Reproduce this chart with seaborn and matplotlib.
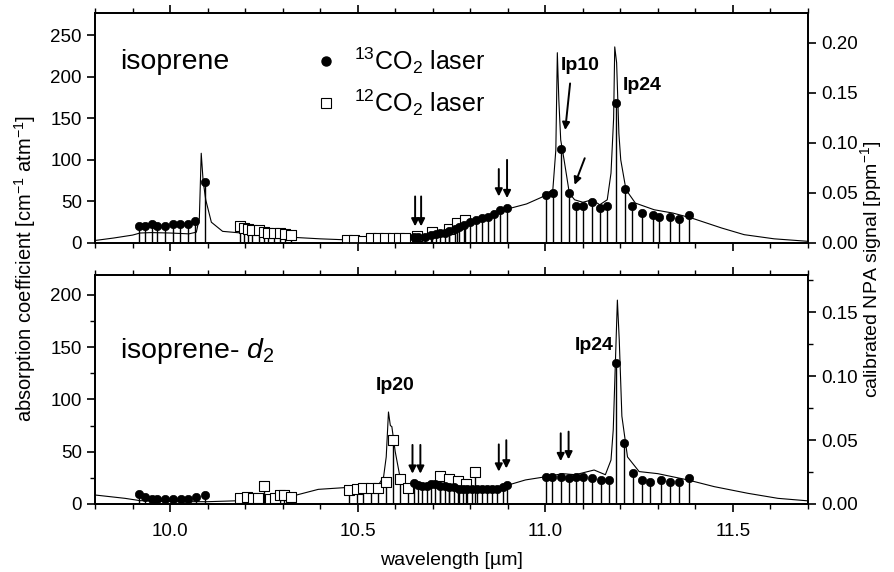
import matplotlib
matplotlib.use("Agg")
import matplotlib.pyplot as plt
import seaborn as sns
import numpy as np
from matplotlib.ticker import MultipleLocator
from matplotlib.lines import Line2D

# ---- top panel: isoprene ----
spec_top_x = [9.80, 9.85, 9.90, 9.92, 9.95, 10.00, 10.05, 10.07, 10.078, 10.083, 10.088, 10.095,
              10.11, 10.14, 10.19, 10.25, 10.32, 10.40, 10.48, 10.55, 10.64, 10.70, 10.725, 10.77,
              10.81, 10.86, 10.90, 10.95, 10.99, 11.005, 11.02, 11.028, 11.032, 11.036, 11.041,
              11.05, 11.064, 11.078, 11.10, 11.125, 11.145, 11.165, 11.175, 11.182, 11.185, 11.190,
              11.196, 11.201, 11.215, 11.24, 11.29, 11.34, 11.39, 11.47, 11.53, 11.61, 11.70]
spec_top_y = [3, 6, 9.5, 12, 12.5, 12, 11, 13, 30, 108, 75, 52,
              25, 14, 12, 9, 7, 5, 3.6, 4, 7, 10, 13, 18,
              25, 33, 41, 47, 55, 60, 64, 112, 229, 172, 124,
              100, 60, 52, 49, 52, 46, 52, 84, 150, 236, 217,
              132, 100, 64, 48, 40, 36, 30, 18, 10, 5, 2]

dot_top_x = [9.918, 9.934, 9.952, 9.964, 9.987, 10.009, 10.027, 10.047, 10.067, 10.092,
             10.649, 10.660, 10.680, 10.696, 10.709, 10.720, 10.733, 10.744, 10.759, 10.769,
             10.783, 10.800, 10.814, 10.830, 10.847, 10.863, 10.879, 10.897,
             11.001, 11.021, 11.041, 11.062, 11.083, 11.101, 11.124, 11.145, 11.164, 11.188,
             11.212, 11.230, 11.257, 11.286, 11.304, 11.333, 11.356, 11.384]
dot_top_y = [20.5, 20.5, 23, 20.5, 20.5, 23, 23, 23, 27, 73,
             6.8, 6.8, 6.8, 9.6, 10.8, 11.6, 12.4, 14.4, 16.8, 18.8,
             21.7, 25.7, 27.7, 29.7, 31.7, 34.5, 39.7, 41.7,
             57.8, 60.6, 112.7, 59.8, 44.5, 44.5, 49.7, 41.7, 44.5, 168.9,
             64.6, 44.5, 36.5, 33.7, 30.9, 30.9, 28.9, 33.7]

sq_top_x = [10.185, 10.197, 10.208, 10.219, 10.237, 10.250, 10.261, 10.277, 10.292, 10.306, 10.321,
            10.471, 10.491, 10.515, 10.536, 10.555, 10.573, 10.593, 10.611, 10.627, 10.658,
            10.698, 10.742, 10.765, 10.787]
sq_top_y = [20, 17.6, 16.4, 15.6, 15.6, 13, 12.4, 12.4, 11.6, 10.8, 9.6,
            3.6, 3.6, 2.4, 6.4, 6.4, 6.4, 5.5, 5.5, 6.4, 8.4,
            13.6, 17, 23.6, 27.7]

# ---- bottom panel: isoprene-d2 ----
spec_bot_x = [9.80, 9.88, 9.92, 10.01, 10.10, 10.19, 10.25, 10.32, 10.395, 10.48, 10.54, 10.555,
              10.569, 10.576, 10.582, 10.587, 10.591, 10.60, 10.611, 10.627, 10.649, 10.69, 10.725,
              10.77, 10.86, 10.90, 10.947, 11.00, 11.046, 11.08, 11.13, 11.16, 11.175, 11.181,
              11.192, 11.197, 11.204, 11.219, 11.25, 11.30, 11.38, 11.45, 11.54, 11.62, 11.70]
spec_bot_y = [8.6, 5.4, 3.2, 2.2, 2.2, 3.2, 4.5, 7, 14, 16, 17, 18,
              26, 45, 88, 75, 74, 50, 29, 18, 20, 19, 18,
              16, 15, 18, 23, 26, 29, 28, 32.5, 28, 42, 71,
              195, 157, 84, 45, 31, 29, 23, 16.6, 10.2, 5.4, 3]

dot_bot_x = [9.918, 9.933, 9.952, 9.964, 9.987, 10.009, 10.029, 10.049, 10.068, 10.092,
             10.649, 10.660, 10.671, 10.684, 10.696, 10.707, 10.720, 10.732, 10.744, 10.756,
             10.769, 10.780, 10.791, 10.805, 10.818, 10.832, 10.845, 10.858, 10.872, 10.886, 10.898,
             11.001, 11.019, 11.041, 11.062, 11.083, 11.101, 11.124, 11.148, 11.170, 11.188,
             11.210, 11.234, 11.257, 11.280, 11.308, 11.332, 11.356, 11.384]
dot_bot_y = [9.6, 6.4, 4.5, 4.5, 4.5, 4.5, 4.5, 4.5, 6.4, 8.6,
             19.8, 18.2, 17.2, 17.2, 19.1, 19.1, 17.2, 17.2, 16, 16,
             14, 14, 14, 14, 14, 14, 14, 14, 14, 16, 18.2,
             26, 26, 26, 24.6, 25.5, 25.5, 25.2, 23, 23, 135,
             58, 29.3, 23, 20.7, 23, 21.4, 20.7, 25.2]

sq_bot_x = [10.187, 10.205, 10.221, 10.234, 10.249, 10.265, 10.279, 10.292, 10.304, 10.322,
            10.477, 10.497, 10.515, 10.536, 10.555, 10.576, 10.593, 10.613, 10.633,
            10.718, 10.743, 10.767, 10.789, 10.812]
sq_bot_y = [5.4, 7, 5.4, 5.4, 17.2, 4.8, 5.4, 8.6, 8.6, 6.4,
            13.4, 14, 15, 15, 15, 21.4, 61.3, 23.6, 15,
            27, 24, 22.3, 19, 30.3]

sns.set_style("ticks")
plt.rcParams["font.family"] = ["Liberation Sans", "DejaVu Sans"]
plt.rcParams["mathtext.fontset"] = "custom"
plt.rcParams["mathtext.rm"] = "Liberation Sans"
plt.rcParams["mathtext.it"] = "Liberation Sans:italic"
plt.rcParams["mathtext.bf"] = "Liberation Sans:bold"
plt.rcParams["axes.linewidth"] = 1.3
for key in ["text.color", "axes.labelcolor", "axes.edgecolor", "xtick.color", "ytick.color"]:
    plt.rcParams[key] = "black"

fig = plt.figure(figsize=(8.94, 5.72), dpi=100)
ax_top = fig.add_axes([0.1063, 0.5752, 0.7975, 0.4021])
ax_bot = fig.add_axes([0.1063, 0.1189, 0.7975, 0.4003])


def draw_panel(ax, sx, sy, dx, dy, qx, qy, ymax, rmax):
    ax.vlines(dx, 0, dy, color="k", lw=1.0, zorder=2)
    ax.vlines(qx, 0, qy, color="k", lw=1.0, zorder=2)
    sns.lineplot(x=sx, y=sy, ax=ax, color="k", lw=0.8, estimator=None, sort=False, zorder=3)
    sns.scatterplot(x=qx, y=qy, ax=ax, marker="s", s=48, facecolor="white",
                    edgecolor="k", linewidth=0.8, zorder=4)
    sns.scatterplot(x=dx, y=dy, ax=ax, marker="o", s=36, color="k",
                    edgecolor="k", linewidth=0.5, zorder=5)
    ax.set_xlim(9.8, 11.7)
    ax.set_ylim(0, ymax)
    ax.xaxis.set_major_locator(MultipleLocator(0.5))
    ax.xaxis.set_minor_locator(MultipleLocator(0.1))
    ax.tick_params(axis="both", which="major", direction="out", length=6, width=1.2, labelsize=13.5)
    ax.tick_params(axis="both", which="minor", direction="out", length=3.5, width=1.0)
    ax.tick_params(axis="x", top=True, which="both")
    ax.tick_params(axis="x", which="major", pad=8)
    ax.set_xlabel("")
    ax.set_ylabel("")
    ax2 = ax.twinx()
    ax2.set_ylim(0, rmax)
    ax2.tick_params(axis="y", which="major", direction="out", length=6, width=1.2, labelsize=13.5)
    ax2.tick_params(axis="y", which="minor", direction="out", length=3.5, width=1.0)
    ax2.yaxis.set_major_locator(MultipleLocator(0.05))
    ax2.yaxis.set_major_formatter(plt.FormatStrFormatter("%.2f"))
    return ax2


r_top = draw_panel(ax_top, spec_top_x, spec_top_y, dot_top_x, dot_top_y, sq_top_x, sq_top_y, 276.8, 0.23)
r_bot = draw_panel(ax_bot, spec_bot_x, spec_bot_y, dot_bot_x, dot_bot_y, sq_bot_x, sq_bot_y, 219, 0.179)

ax_top.yaxis.set_major_locator(MultipleLocator(50))
ax_top.tick_params(axis="x", labelbottom=False)
ax_bot.yaxis.set_major_locator(MultipleLocator(50))
ax_bot.yaxis.set_minor_locator(MultipleLocator(25))
r_bot.yaxis.set_minor_locator(MultipleLocator(0.025))
ax_bot.set_xticks([10.0, 10.5, 11.0, 11.5])
ax_bot.set_xticklabels(["10.0", "10.5", "11.0", "11.5"])

# panel names and peak labels
ax_top.text(0.035, 0.787, "isoprene", transform=ax_top.transAxes, fontsize=20.5, va="center")
ax_bot.text(0.035, 0.67, r"isoprene- $d_2$", transform=ax_bot.transAxes, fontsize=20.5, va="center")
ax_top.text(11.04, 214, "Ip10", fontsize=14, fontweight="bold", va="center")
ax_top.text(11.206, 190, "Ip24", fontsize=14, fontweight="bold", va="center")
ax_bot.text(10.60, 113, "Ip20", fontsize=14, fontweight="bold", va="center", ha="center")
ax_bot.text(11.13, 152, "Ip24", fontsize=14, fontweight="bold", va="center", ha="center")

# arrows
arrow_kw = dict(arrowstyle="-|>", color="k", lw=1.4, mutation_scale=11, shrinkA=0, shrinkB=0)
for (x0, y0, x1, y1) in [(10.653, 56, 10.653, 20), (10.669, 56, 10.669, 20),
                         (10.876, 89, 10.876, 56), (10.898, 100, 10.898, 54),
                         (11.066, 192, 11.053, 136), (11.105, 102, 11.078, 70)]:
    ax_top.annotate("", xy=(x1, y1), xytext=(x0, y0), arrowprops=arrow_kw)
for (x0, y0, x1, y1) in [(10.646, 56.5, 10.646, 29), (10.667, 56.5, 10.667, 29),
                         (10.876, 57, 10.876, 31), (10.896, 61, 10.896, 34),
                         (11.041, 67.6, 11.041, 41), (11.062, 69.2, 11.062, 42.7)]:
    ax_bot.annotate("", xy=(x1, y1), xytext=(x0, y0), arrowprops=arrow_kw)

# legend
handles = [Line2D([], [], marker="o", color="k", ls="none", markersize=6.5),
           Line2D([], [], marker="s", markerfacecolor="white", markeredgecolor="k",
                  ls="none", markersize=6.5, markeredgewidth=0.8)]
labels = [r"$^{13}$CO$_2$ laser", r"$^{12}$CO$_2$ laser"]
ax_top.legend(handles, labels, loc="center left", bbox_to_anchor=(0.275, 0.70), frameon=False,
              fontsize=18, handlelength=1.0, handletextpad=0.6, labelspacing=0.45)

ax_bot.set_xlabel("wavelength [µm]", fontsize=14, labelpad=8)
fig.text(0.028, 0.53, r"absorption coefficient [cm$^{-1}$ atm$^{-1}$]", rotation=90,
         fontsize=14.5, ha="center", va="center")
fig.text(0.974, 0.53, r"calibrated NPA signal [ppm$^{-1}$]", rotation=90,
         fontsize=14, ha="center", va="center")

fig.savefig("out.png", dpi=100)
